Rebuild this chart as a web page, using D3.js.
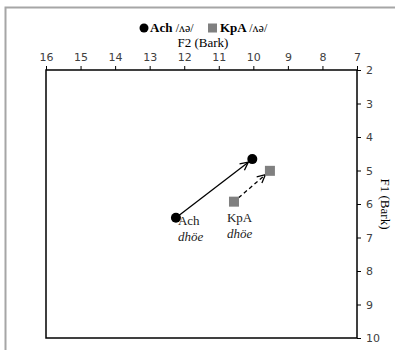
<!DOCTYPE html>
<html><head><meta charset="utf-8">
<script src="https://cdn.jsdelivr.net/npm/d3@7"></script>
<style>body{margin:0;background:#fff}svg{display:block}.serif{font-family:"Liberation Serif","Times New Roman","DejaVu Serif",serif}</style>
</head><body>
<svg id="c" width="395" height="350"></svg>
<script>
const f2Ticks = [16,15,14,13,12,11,10,9,8,7];
const f1Ticks = [2,3,4,5,6,7,8,9,10];
const seriesNames = ["Ach", "KpA"];
const startF2 = [12.24, 10.56];
const startF1 = [6.41, 5.93];
const endF2 = [10.03, 9.52];
const endF1 = [4.66, 5.01];
const pointLabels = ["Ach", "KpA"];
const wordLabels = ["dhöe", "dhöe"];

const svg = d3.select("#c");
const L = 46, R = 357, T = 70, B = 338;
const x = d3.scaleLinear().domain([16,7]).range([L,R]);
const y = d3.scaleLinear().domain([2,10]).range([T,B]);

// outer frame
svg.append("path").attr("d","M5.5,350 L5.5,7.5 L395,7.5").attr("fill","none").attr("stroke","#a6a6a6").attr("stroke-width",2);

// plot border
svg.append("rect").attr("x",L).attr("y",T).attr("width",R-L).attr("height",B-T)
  .attr("fill","none").attr("stroke","#000").attr("stroke-width",1.5);

const xAxis = svg.append("g").attr("transform",`translate(0,${T})`)
  .call(d3.axisTop(x).tickValues(f2Ticks).tickSize(4).tickSizeOuter(0).tickFormat(d3.format("d")));
const yAxis = svg.append("g").attr("transform",`translate(${R},0)`)
  .call(d3.axisRight(y).tickValues(f1Ticks).tickSize(4).tickSizeOuter(0).tickFormat(d3.format("d")));
[xAxis,yAxis].forEach(a=>{
  a.select(".domain").remove();
  a.selectAll(".tick line").attr("stroke","#000").attr("stroke-width",1);
  a.selectAll("text").attr("font-family","DejaVu Sans").attr("font-size",11).attr("fill","#404040");
});
xAxis.selectAll("text").attr("dy","0").attr("y",-9);
yAxis.selectAll("text").attr("x",9);

svg.append("text").attr("class","serif").attr("x",203).attr("y",47).attr("text-anchor","middle")
  .attr("font-size",13).text("F2 (Bark)");
svg.append("text").attr("class","serif").attr("transform",`translate(381,204) rotate(90)`).attr("text-anchor","middle")
  .attr("font-size",13).text("F1 (Bark)");

// legend
const lg = svg.append("g").attr("class","serif").attr("font-size",13);
lg.append("circle").attr("cx",144).attr("cy",28).attr("r",4.5).attr("fill","#000");
const t1 = lg.append("text").attr("x",150).attr("y",32);
t1.append("tspan").attr("font-weight","bold").text("Ach ");
t1.append("tspan").attr("font-size",12).text("/ʌə/");
lg.append("rect").attr("x",208).attr("y",23.5).attr("width",9).attr("height",9).attr("fill","#808080");
const t2 = lg.append("text").attr("x",220).attr("y",32);
t2.append("tspan").attr("font-weight","bold").text("KpA ");
t2.append("tspan").attr("font-size",12).text("/ʌə/");

// arrow marker
svg.append("defs").append("marker").attr("id","arr").attr("viewBox","0 0 10 10")
  .attr("refX",9).attr("refY",5).attr("markerWidth",10).attr("markerHeight",10)
  .attr("markerUnits","userSpaceOnUse").attr("orient","auto")
  .append("path").attr("d","M1,1 L9,5 L1,9").attr("fill","none").attr("stroke","#000").attr("stroke-width",1.3);

const shortenBy = [5, 6];
seriesNames.forEach((s,i)=>{
  const x1 = x(startF2[i]), y1 = y(startF1[i]), x2 = x(endF2[i]), y2 = y(endF1[i]);
  const dx = x2-x1, dy = y2-y1, len = Math.hypot(dx,dy);
  const sx = i===0 ? 0 : 6;
  svg.append("line")
    .attr("x1", x1 + dx/len*sx).attr("y1", y1 + dy/len*sx)
    .attr("x2", x2 - dx/len*shortenBy[i]).attr("y2", y2 - dy/len*shortenBy[i])
    .attr("stroke","#000").attr("stroke-width",1.3)
    .attr("stroke-dasharray", i===0 ? null : "4,3")
    .attr("marker-end","url(#arr)");
});

// markers
[0].forEach(i=>{
  svg.append("circle").attr("cx",x(startF2[i])).attr("cy",y(startF1[i])).attr("r",5).attr("fill","#000");
  svg.append("circle").attr("cx",x(endF2[i])).attr("cy",y(endF1[i])).attr("r",5).attr("fill","#000");
});
[1].forEach(i=>{
  svg.append("rect").attr("x",x(startF2[i])-5).attr("y",y(startF1[i])-5).attr("width",10).attr("height",10).attr("fill","#808080");
  svg.append("rect").attr("x",x(endF2[i])-5).attr("y",y(endF1[i])-5).attr("width",10).attr("height",10).attr("fill","#808080");
});

// point labels
const labOff = [[2, 7], [-7, 20]];
seriesNames.forEach((s,i)=>{
  const px = x(startF2[i]) + labOff[i][0], py = y(startF1[i]) + labOff[i][1];
  svg.append("text").attr("class","serif").attr("x",px).attr("y",py).attr("font-size",13).attr("fill","#222").text(pointLabels[i]);
  svg.append("text").attr("class","serif").attr("x",px).attr("y",py+16).attr("font-style","italic").attr("font-size",13).attr("fill","#222").text(wordLabels[i]);
});
</script>
</body></html>
